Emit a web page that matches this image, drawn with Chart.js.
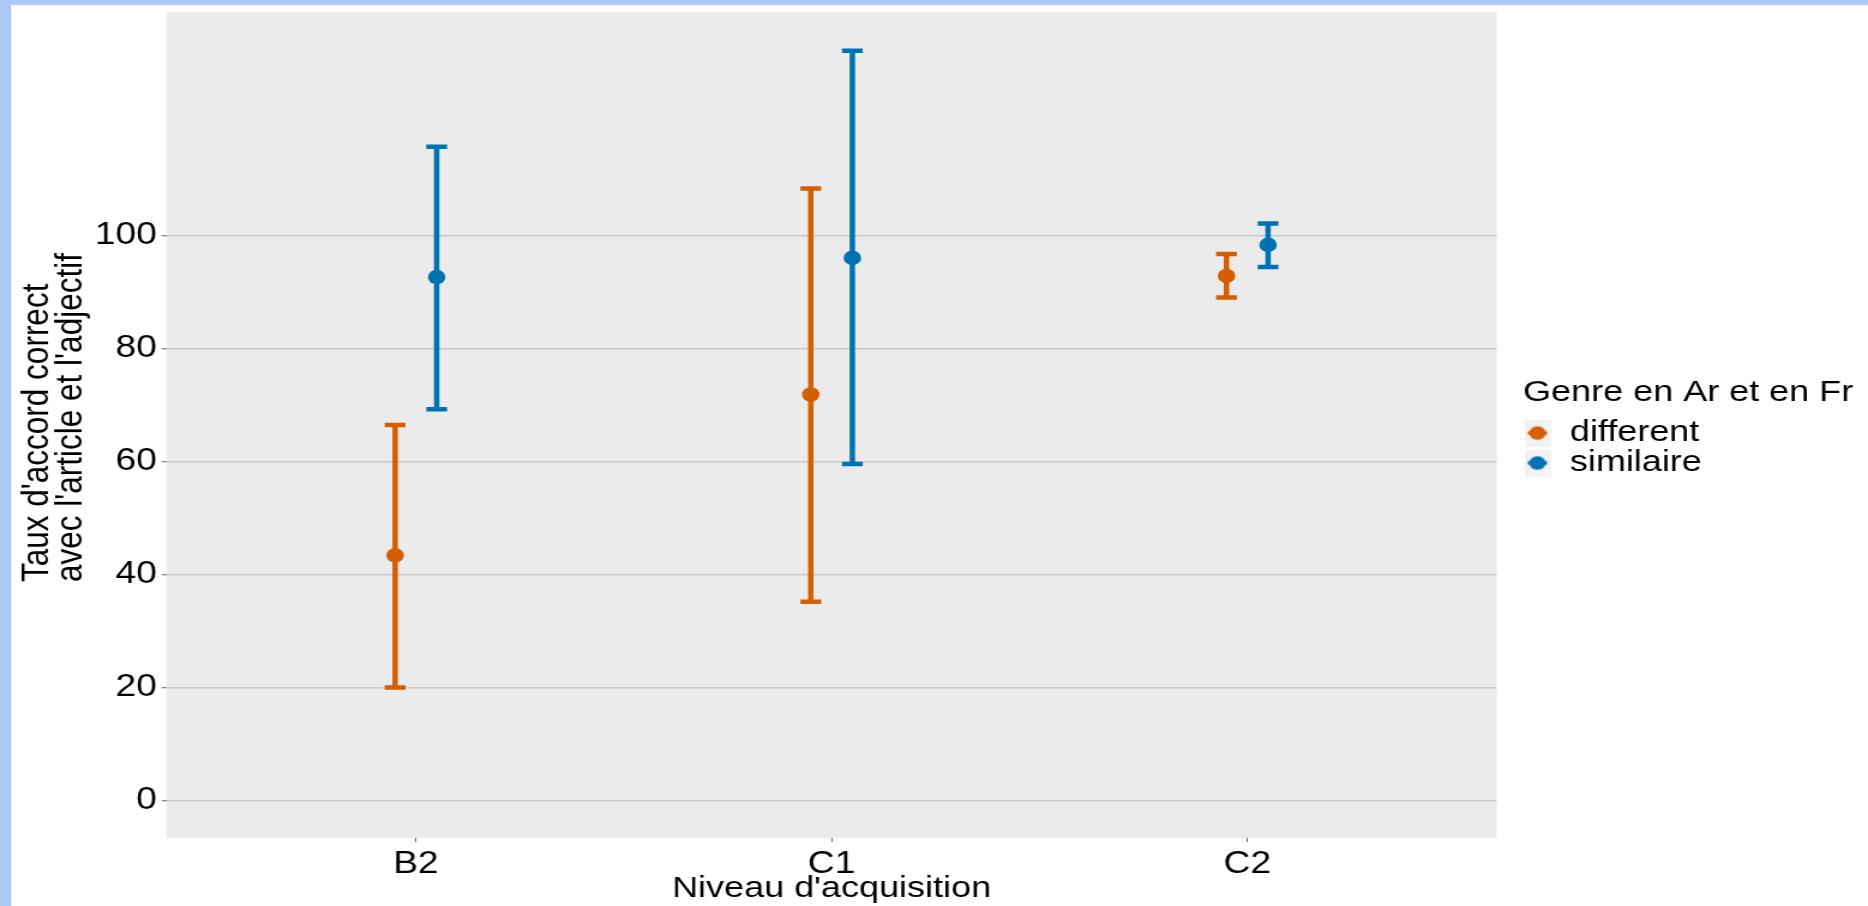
<!DOCTYPE html>
<html lang="fr">
<head>
    <meta charset="UTF-8">
    <title>Taux d'accord correct par niveau d'acquisition</title>
    <style>
        html, body {
            margin: 0;
            padding: 0;
            width: 1868px;
            height: 906px;
            overflow: hidden;
            background: #ffffff;
        }
        /* the reference picture is stretched sideways, so is this chart */
        #wrap {
            position: absolute;
            left: 0;
            top: 0;
            width: 1557px;
            height: 906px;
            transform: scaleX(1.19974);
            transform-origin: 0 0;
        }
        .edge {
            position: absolute;
            background: #aac9f7;
            z-index: 2;
        }
        #edgeLeft { left: 0; top: 0; width: 11px; height: 906px; }
        #edgeTop { left: 0; top: 0; width: 1868px; height: 5px; }
    </style>
    <script src="https://cdn.jsdelivr.net/npm/chart.js"></script>
</head>
<body>
    <div id="wrap"><canvas id="chart" width="1557" height="906"></canvas></div>
    <div class="edge" id="edgeLeft"></div>
    <div class="edge" id="edgeTop"></div>
    <script>
        const categories = ["B2", "C1", "C2"];
        const groups = ["different", "similaire"];
        const groupColors = ["#D55E00", "#0072B2"];

        // mean and error bar ends
        const meanDifferent = [43.4, 71.9, 92.9];
        const lowerDifferent = [20.0, 35.2, 89.1];
        const upperDifferent = [66.5, 108.4, 96.8];
        const meanSimilaire = [92.7, 96.1, 98.4];
        const lowerSimilaire = [69.3, 59.6, 94.5];
        const upperSimilaire = [115.8, 132.8, 102.2];

        const yTicks = [0, 20, 40, 60, 80, 100];
        const xTitle = "Niveau d'acquisition";
        const yTitleLines = ["Taux d'accord correct", "avec l'article et l'adjectif"];
        const legendTitle = "Genre en Ar et en Fr";

        const DODGE = [-0.05, 0.05];
        const CAP = 0.025;
        const FONT = "'Liberation Sans', Arial, sans-serif";

        Chart.defaults.font.family = FONT;
        Chart.defaults.color = "#000";

        function meanPoints(means, dx) {
            return means.map((m, i) => ({ x: i + 1 + dx, y: m }));
        }

        // one line dataset per group, broken by nulls: top cap, stem, bottom cap
        function errorSegments(lower, upper, dx) {
            const pts = [];
            categories.forEach((c, i) => {
                const x = i + 1 + dx;
                pts.push({ x: x - CAP, y: upper[i] }, { x: x + CAP, y: upper[i] }, { x: x, y: null });
                pts.push({ x: x, y: upper[i] }, { x: x, y: lower[i] }, { x: x, y: null });
                pts.push({ x: x - CAP, y: lower[i] }, { x: x + CAP, y: lower[i] }, { x: x, y: null });
            });
            return pts;
        }

        function makeKey(color) {
            const c = document.createElement("canvas");
            c.width = 22;
            c.height = 27;
            const k = c.getContext("2d");
            k.fillStyle = "#f2f2f2";
            k.fillRect(0, 0, 22, 27);
            k.strokeStyle = color;
            k.lineWidth = 3.5;
            k.beginPath();
            k.moveTo(3, 13.5);
            k.lineTo(19, 13.5);
            k.stroke();
            k.fillStyle = color;
            k.beginPath();
            k.arc(11, 13.5, 6.8, 0, Math.PI * 2);
            k.fill();
            return c;
        }
        const legendKeys = groupColors.map(makeKey);

        const panelBackground = {
            id: "panelBackground",
            beforeDraw(chart) {
                const { ctx, chartArea: a } = chart;
                ctx.save();
                ctx.fillStyle = "#EBEBEB";
                ctx.fillRect(a.left, a.top, a.width, a.height);
                ctx.restore();
            },
        };

        // legend box is clipped to its width, which ignores the title: widen it
        const legendWidth = {
            id: "legendWidth",
            afterInit(chart) {
                const lg = chart.legend;
                const fit = lg.fit.bind(lg);
                lg.fit = function () {
                    fit();
                    this.width = 287.5;
                };
            },
        };

        // two left-justified lines, read bottom to top
        const yTitle = {
            id: "yTitle",
            afterDraw(chart) {
                const ctx = chart.ctx;
                const lineX = [31, 59.5];
                ctx.save();
                ctx.font = "31.5px " + FONT;
                ctx.fillStyle = "#000";
                ctx.textAlign = "left";
                ctx.textBaseline = "middle";
                yTitleLines.forEach((line, i) => {
                    ctx.save();
                    ctx.translate(lineX[i], 582);
                    ctx.rotate(-Math.PI / 2);
                    ctx.fillText(line, 0, 0);
                    ctx.restore();
                });
                ctx.restore();
            },
        };

        function noOverflow(s) {
            s.paddingTop = 0;
            s.paddingBottom = 0;
            s.paddingLeft = 0;
            s.paddingRight = 0;
        }

        const ctx = document.getElementById("chart").getContext("2d");
        new Chart(ctx, {
            type: "scatter",
            data: {
                datasets: [
                    {
                        label: groups[0],
                        data: meanPoints(meanDifferent, DODGE[0]),
                        backgroundColor: groupColors[0],
                        borderWidth: 0,
                        pointRadius: 7.3,
                    },
                    {
                        label: groups[1],
                        data: meanPoints(meanSimilaire, DODGE[1]),
                        backgroundColor: groupColors[1],
                        borderWidth: 0,
                        pointRadius: 7.3,
                    },
                    {
                        label: groups[0] + " erreur",
                        data: errorSegments(lowerDifferent, upperDifferent, DODGE[0]),
                        showLine: true,
                        spanGaps: false,
                        borderColor: groupColors[0],
                        borderWidth: 4.5,
                        pointRadius: 0,
                    },
                    {
                        label: groups[1] + " erreur",
                        data: errorSegments(lowerSimilaire, upperSimilaire, DODGE[1]),
                        showLine: true,
                        spanGaps: false,
                        borderColor: groupColors[1],
                        borderWidth: 4.5,
                        pointRadius: 0,
                    },
                ],
            },
            options: {
                responsive: false,
                animation: false,
                events: [],
                layout: {
                    padding: { top: 12, right: 0, bottom: 0, left: 0 },
                },
                plugins: {
                    tooltip: { enabled: false },
                    legend: {
                        position: "right",
                        align: "center",
                        fullSize: false,
                        title: {
                            display: true,
                            text: legendTitle,
                            position: "start",
                            color: "#000",
                            font: { size: 30 },
                            padding: { top: 6, bottom: 4 },
                        },
                        labels: {
                            usePointStyle: true,
                            pointStyleWidth: 24,
                            padding: 0,
                            color: "#000",
                            font: { size: 30 },
                            generateLabels: () => groups.map((g, i) => ({
                                text: g,
                                pointStyle: legendKeys[i],
                                fillStyle: groupColors[i],
                                strokeStyle: groupColors[i],
                                lineWidth: 0,
                                hidden: false,
                                datasetIndex: i,
                            })),
                        },
                    },
                },
                scales: {
                    x: {
                        type: "linear",
                        min: 0.4,
                        max: 3.6,
                        afterBuildTicks: (s) => {
                            s.ticks = categories.map((c, i) => ({ value: i + 1 }));
                        },
                        afterFit: (s) => {
                            s.height = 68;
                            noOverflow(s);
                        },
                        ticks: {
                            callback: (v) => categories[Math.round(v) - 1],
                            color: "#000",
                            font: { size: 31 },
                            padding: 4,
                            autoSkip: false,
                            maxRotation: 0,
                        },
                        grid: {
                            drawOnChartArea: false,
                            tickLength: 4,
                            tickColor: "#666",
                            tickWidth: 1,
                        },
                        border: { display: false },
                        title: {
                            display: true,
                            text: xTitle,
                            color: "#000",
                            font: { size: 30, lineHeight: 1 },
                            padding: { top: 0, bottom: 2 },
                        },
                    },
                    y: {
                        type: "linear",
                        min: -6.65,
                        max: 139.65,
                        afterBuildTicks: (s) => {
                            s.ticks = yTicks.map((v) => ({ value: v }));
                        },
                        afterFit: (s) => {
                            s.width = 138.75;
                            noOverflow(s);
                        },
                        ticks: {
                            color: "#000",
                            font: { size: 31 },
                            padding: 4,
                        },
                        grid: {
                            color: "#cbcbcb",
                            lineWidth: 1.5,
                            tickLength: 4,
                            tickColor: "#666",
                            tickWidth: 1,
                        },
                        border: { display: false },
                    },
                    // empty strip between the panel and the legend
                    gap: {
                        type: "linear",
                        position: "right",
                        ticks: { display: false },
                        grid: { display: false },
                        border: { display: false },
                        afterFit: (s) => {
                            s.width = 22;
                            noOverflow(s);
                        },
                    },
                },
            },
            plugins: [panelBackground, legendWidth, yTitle],
        });
    </script>
</body>
</html>
